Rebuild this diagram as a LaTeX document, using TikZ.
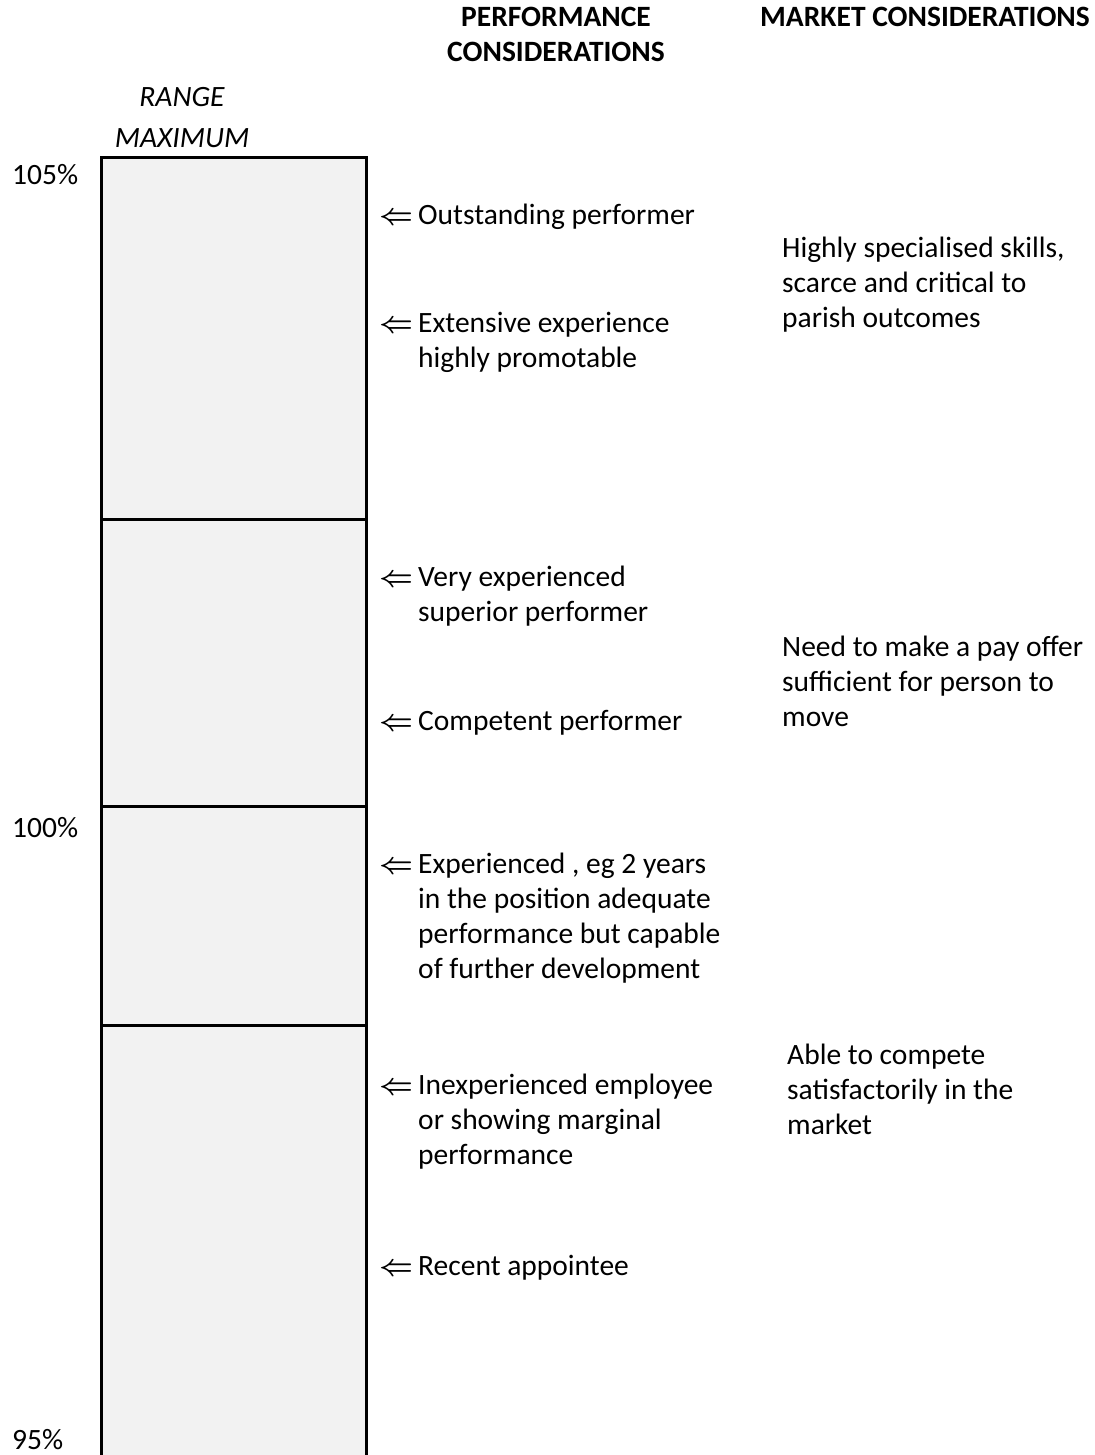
\RequirePackage{fix-cm}
\documentclass[tikz,border=0pt]{standalone}
\usepackage{fontspec}
\setmainfont{Carlito}
\usetikzlibrary{positioning}
\definecolor{cellgray}{HTML}{F2F2F2}
\newcommand{\lines}[2][l]{\begin{tabular}[t]{@{}#1@{}}#2\end{tabular}}

\begin{document}
\begin{tikzpicture}[
    x=1pt, y=-1pt,
    every node/.style={inner sep=0pt, font=\fontsize{29.5}{35}\selectfont},
    cell/.style={rectangle, draw=black, fill=cellgray, line width=2.7pt, minimum width=264.8pt, outer sep=0pt, anchor=north},
    item/.style={anchor=base west},
    arr/.style={anchor=base west, font=\fontsize{29.5}{35}\selectfont\boldmath},
    pct/.style={anchor=base west},
    head/.style={font=\fontsize{29.5}{35}\selectfont\bfseries}
]
\useasboundingbox (0,0) rectangle (1094,1455);

% The range column
\node[cell, minimum height=362.2pt] (top) at (233.9,157.3) {};
\node[cell, minimum height=287pt, below=0pt of top] (upper) {};
\node[cell, minimum height=219pt, below=0pt of upper] (mid) {};
\node[cell, minimum height=450pt, below=0pt of mid] (low) {};

% Headings
\node[head, anchor=base] (perfhead) at (556,27) {\lines[c]{PERFORMANCE\\CONSIDERATIONS}};
\node[head, anchor=base west] (markhead) at (760,27) {MARKET CONSIDERATIONS};
\node[anchor=base, font=\fontsize{29.5}{35}\selectfont\itshape] (rangemax) at (182,107) {\lines[c]{RANGE\\[6pt]MAXIMUM}};

% Percentages
\node[pct] (p105) at (12,185) {105\%};
\node[pct] (p100) at (12,837) {100\%};
\node[pct] (p95) at (12,1449) {95\%};

% Performance considerations
\node[arr] (a1) at (379,225) {$\Leftarrow$};
\node[item] (outst) at (418,225) {Outstanding performer};
\node[arr] (a2) at (379,332) {$\Leftarrow$};
\node[item] (extens) at (418,332) {\lines{Extensive experience\\highly promotable}};
\node[arr] (a3) at (379,586) {$\Leftarrow$};
\node[item] (veryexp) at (418,586) {\lines{Very experienced\\superior performer}};
\node[arr] (a4) at (379,730) {$\Leftarrow$};
\node[item] (compet) at (418,730) {Competent performer};
\node[arr] (a5) at (379,873) {$\Leftarrow$};
\node[item] (exper) at (418,873) {\lines{Experienced , eg 2 years\\in the position adequate\\performance but capable\\of further development}};
\node[arr] (a6) at (379,1094) {$\Leftarrow$};
\node[item] (inexp) at (418,1094) {\lines{Inexperienced employee\\or showing marginal\\performance}};
\node[arr] (a7) at (379,1275) {$\Leftarrow$};
\node[item] (recent) at (418,1275) {Recent appointee};

% Market considerations
\node[item] (skills) at (782,258) {\lines{Highly specialised skills,\\scarce and critical to\\parish outcomes}};
\node[item] (payoffer) at (782,656) {\lines{Need to make a pay offer\\sufficient for person to\\move}};
\node[item] (compete) at (787,1064) {\lines{Able to compete\\satisfactorily in the\\market}};

\end{tikzpicture}
\end{document}
